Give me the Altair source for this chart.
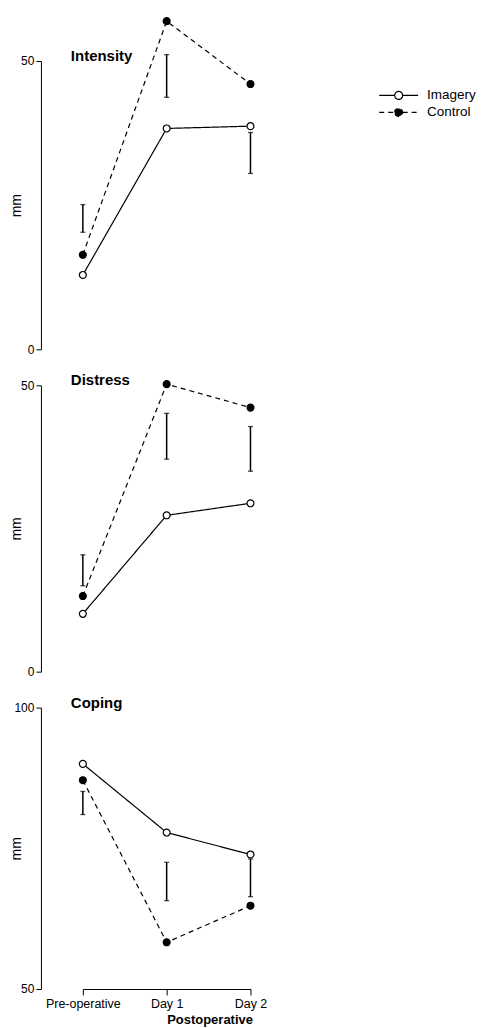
import altair as alt
import pandas as pd

categories = ["Pre-operative", "Day 1", "Day 2"]
groups = ["Imagery", "Control"]

intensity_imagery = [12.9, 38.3, 38.7]
intensity_control = [16.4, 56.9, 46.0]
intensity_err_low = [20.3, 43.7, 30.5]
intensity_err_high = [25.1, 51.1, 37.6]

distress_imagery = [10.1, 27.3, 29.4]
distress_control = [13.2, 50.2, 46.1]
distress_err_low = [15.0, 37.1, 35.0]
distress_err_high = [20.4, 45.1, 42.8]

coping_imagery = [90.0, 77.8, 73.9]
coping_control = [87.1, 58.3, 64.8]
coping_err_low = [81.0, 65.7, 66.4]
coping_err_high = [85.1, 72.5, 73.1]

FONT = "Liberation Sans"
W = 168
LEGEND_SYMBOL = ("M-2,0L-0.41,0M0.41,0L2,0"
                 "M-0.41,0A0.41,0.41,0,1,1,0.41,0A0.41,0.41,0,1,1,-0.41,0Z")


def legend():
    return alt.Legend(
        title=None, orient="none", legendX=306, legendY=24,
        symbolType=LEGEND_SYMBOL, symbolSize=380, symbolStrokeWidth=1.2,
        symbolStrokeColor="black", labelFont=FONT, labelFontSize=13.5,
        labelColor="black", rowPadding=0, labelOffset=18,
    )


def panel(title, imagery, control, lo, hi, ymin, ymax, height, show_x):
    df = pd.DataFrame({
        "Phase": categories * 2,
        "Group": [groups[0]] * 3 + [groups[1]] * 3,
        "Value": imagery + control,
    })
    err = pd.DataFrame({"Phase": categories, "lo": lo, "hi": hi})

    if show_x:
        xaxis = alt.Axis(
            title="Postoperative", titleFont=FONT, titleFontSize=13,
            titleFontWeight="bold", titleColor="black",
            titleX=127, titleY=31, titleBaseline="middle", titleAlign="center",
            labelFont=FONT, labelFontSize=12.5, labelColor="black",
            labelAngle=0, labelPadding=3, tickSize=6, tickColor="black",
            domainColor="black", tickWidth=1, domainWidth=1, grid=False,
        )
    else:
        xaxis = None
    x = alt.X("Phase:N", sort=categories,
              scale=alt.Scale(type="point", padding=0, domain=categories),
              axis=xaxis)
    yscale = alt.Scale(domain=[ymin, ymax], nice=False, zero=False)
    yaxis = alt.Axis(
        values=[ymin, ymax], offset=42, title="mm", titleFont=FONT,
        titleFontSize=14, titleFontWeight="normal", titleColor="black",
        titleX=-24, titleY=height / 2, titleBaseline="middle", titleAngle=270,
        labelFont=FONT, labelFontSize=12, labelColor="black", labelPadding=2,
        tickSize=5, tickColor="black", tickWidth=1, domainColor="black",
        domainWidth=1, grid=False,
    )
    y = alt.Y("Value:Q", scale=yscale, axis=yaxis)

    lines = alt.Chart(df).mark_line(color="black", strokeWidth=1.2).encode(
        x=x, y=y,
        strokeDash=alt.StrokeDash(
            "Group:N", scale=alt.Scale(domain=groups, range=[[1, 0], [5, 4]]),
            legend=legend()),
    )
    points = alt.Chart(df).mark_point(
        filled=True, size=48, stroke="black", strokeWidth=1.2, opacity=1
    ).encode(
        x=x, y=y,
        fill=alt.Fill("Group:N",
                      scale=alt.Scale(domain=groups, range=["white", "black"]),
                      legend=legend()),
    )
    bars = alt.Chart(err).mark_rule(color="black", strokeWidth=1.5).encode(
        x=x, y=alt.Y("lo:Q", scale=yscale, axis=yaxis), y2="hi:Q")
    cap_lo = alt.Chart(err).mark_tick(
        color="black", thickness=1.3, size=5, orient="horizontal"
    ).encode(x=x, y=alt.Y("lo:Q", scale=yscale, axis=yaxis))
    cap_hi = alt.Chart(err).mark_tick(
        color="black", thickness=1.3, size=5, orient="horizontal"
    ).encode(x=x, y=alt.Y("hi:Q", scale=yscale, axis=yaxis))
    label = alt.Chart(pd.DataFrame({"t": [title]})).mark_text(
        align="left", baseline="middle", font=FONT, fontSize=15,
        fontWeight="bold", color="black",
    ).encode(text="t:N", x=alt.value(-12), y=alt.value(-5))

    return alt.layer(bars, cap_lo, cap_hi, lines, points, label).properties(
        width=W, height=height)


p1 = panel("Intensity", intensity_imagery, intensity_control,
           intensity_err_low, intensity_err_high, 0, 50, 289, False)
p2 = panel("Distress", distress_imagery, distress_control,
           distress_err_low, distress_err_high, 0, 50, 287, False)
p3 = panel("Coping", coping_imagery, coping_control,
           coping_err_low, coping_err_high, 50, 100, 282, True)

chart = alt.vconcat(p1, p2, p3, spacing=36, bounds="flush").properties(
    padding={"left": 2, "top": 6, "right": 0, "bottom": 0},
    background="white",
).configure_view(strokeWidth=0, stroke="transparent")

chart.save("out.html", embed_options={"renderer": "svg", "actions": False})
